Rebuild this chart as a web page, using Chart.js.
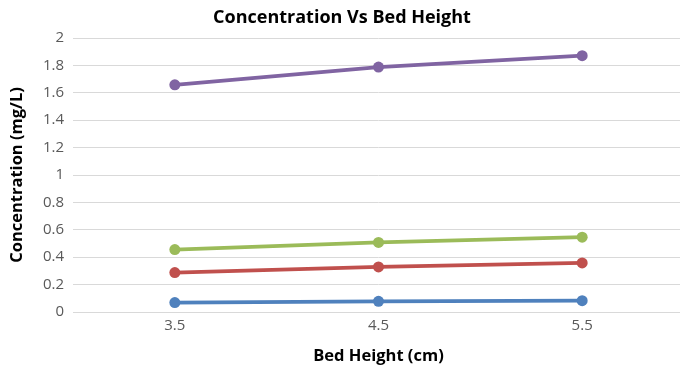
<!DOCTYPE html>
<html>
<head>
<meta charset="utf-8">
<script src="https://cdn.jsdelivr.net/npm/chart.js@4.4.1/dist/chart.umd.min.js"></script>
<style>
  html, body { margin: 0; padding: 0; background: #ffffff; overflow: hidden; width: 680px; height: 365px; }
  #wrap { position: absolute; left: 0; top: 0; width: 690px; height: 372px; }
</style>
</head>
<body>
<div id="wrap"><canvas id="chart" width="690" height="372"></canvas></div>
<script>
// Bed heights (cm) on the category axis
const bedHeights = ['3.5', '4.5', '5.5'];

// Concentration (mg/L) for each of the four runs
const seriesBlue   = [0.069, 0.078, 0.083];
const seriesRed    = [0.288, 0.329, 0.358];
const seriesGreen  = [0.456, 0.508, 0.546];
const seriesPurple = [1.658, 1.788, 1.871];

// Value-axis ticks
const yTicks = [0, 0.2, 0.4, 0.6, 0.8, 1, 1.2, 1.4, 1.6, 1.8, 2];

const FONT = '"Open Sans", Lato, sans-serif';

function lineSet(label, data, color) {
  return {
    label: label,
    data: data,
    borderColor: color,
    backgroundColor: color,
    borderWidth: 3.8,
    pointRadius: 5.5,
    pointHoverRadius: 5.5,
    pointBorderWidth: 0,
    tension: 0
  };
}

new Chart(document.getElementById('chart'), {
  type: 'line',
  data: {
    labels: bedHeights,
    datasets: [
      lineSet('Series 1', seriesBlue, '#4f81bd'),
      lineSet('Series 2', seriesRed, '#c0504d'),
      lineSet('Series 3', seriesGreen, '#9bbb59'),
      lineSet('Series 4', seriesPurple, '#8064a2')
    ]
  },
  options: {
    responsive: false,
    animation: false,
    layout: { padding: { left: 0, right: 6, top: 0, bottom: 0 } },
    plugins: {
      legend: { display: false },
      tooltip: { enabled: false },
      title: {
        display: true,
        text: 'Concentration Vs Bed Height',
        color: '#000000',
        font: { family: FONT, size: 18, weight: 'bold', lineHeight: 1.2 },
        padding: { top: 7, bottom: 9.4 }
      }
    },
    scales: {
      x: {
        type: 'category',
        offset: true,
        grid: { display: false, drawTicks: false },
        border: { display: true, color: '#d9d9d9', width: 1 },
        ticks: { color: '#595959', font: { family: FONT, size: 15 }, padding: 5, maxRotation: 0 },
        title: {
          display: true,
          text: 'Bed Height (cm)',
          color: '#000000',
          font: { family: FONT, size: 16.5, weight: 'bold' },
          padding: { top: 0, bottom: 6 }
        },
        afterFit(scale) { scale.height = 60; }
      },
      y: {
        min: 0,
        max: 2,
        afterBuildTicks(scale) { scale.ticks = yTicks.map(v => ({ value: v })); },
        grid: { color: '#d9d9d9', lineWidth: 1, drawTicks: false },
        border: { display: false },
        ticks: {
          color: '#595959',
          font: { family: FONT, size: 15 },
          padding: 9,
          callback: v => String(v)
        },
        title: {
          display: true,
          text: 'Concentration (mg/L)',
          color: '#000000',
          font: { family: FONT, size: 16.5, weight: 'bold' },
          padding: { top: 7, bottom: 0 }
        },
        afterFit(scale) { scale.width = 73; }
      }
    }
  }
});
</script>
</body>
</html>
